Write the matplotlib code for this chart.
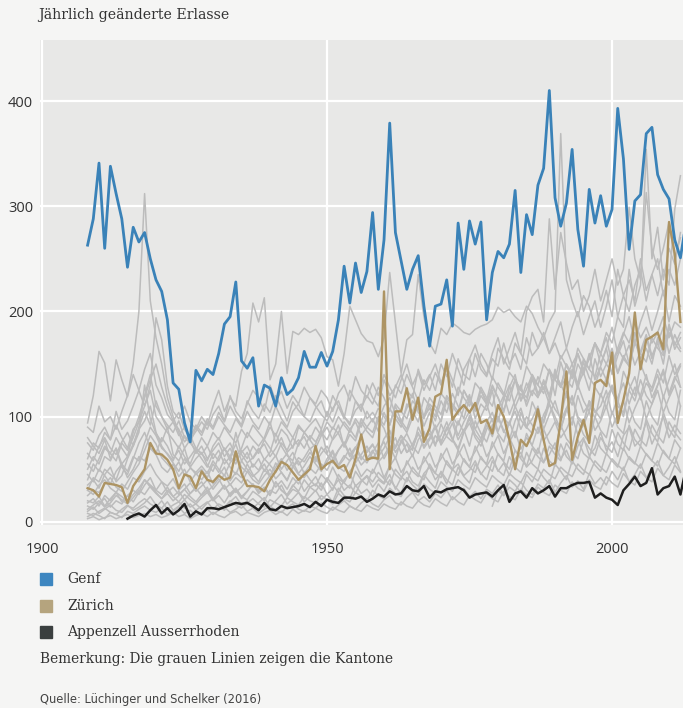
import numpy as np
import matplotlib
matplotlib.use("Agg")
import matplotlib.pyplot as plt
from matplotlib.patches import Rectangle

# jährlich geänderte Erlasse, Genf ab 1908
genf = [263, 288, 341, 260, 338, 312, 288, 242, 280, 266,
        275, 250, 230, 219, 192, 132, 126, 94, 76, 144,
        134, 145, 140, 160, 188, 195, 228, 153, 146, 156,
        110, 130, 127, 110, 137, 121, 126, 137, 162, 147,
        147, 161, 148, 162, 192, 243, 208, 246, 218, 238,
        294, 221, 268, 379, 275, 248, 221, 240, 253, 205,
        167, 205, 207, 230, 186, 284, 240, 286, 264, 285,
        192, 237, 257, 251, 264, 315, 237, 292, 273, 320,
        336, 410, 308, 281, 303, 354, 278, 243, 316, 284,
        310, 281, 297, 393, 345, 259, 305, 311, 369, 375,
        330, 316, 307, 268, 251, 285]

# Zürich ab 1908
zuerich = [32, 30, 24, 37, 36, 35, 33, 18, 34, 42,
           50, 75, 65, 64, 59, 50, 32, 45, 43, 32,
           48, 40, 38, 44, 40, 42, 67, 46, 34, 34,
           33, 29, 40, 48, 57, 54, 47, 40, 45, 50,
           72, 50, 55, 58, 51, 54, 42, 60, 83, 59,
           61, 60, 219, 50, 105, 105, 127, 97, 118, 76,
           89, 119, 122, 154, 97, 105, 111, 104, 113, 94,
           97, 84, 111, 100, 78, 50, 78, 72, 84, 107,
           78, 53, 56, 97, 143, 59, 81, 97, 75, 132,
           135, 129, 161, 94, 116, 141, 199, 145, 173, 176,
           180, 164, 285, 255, 190]

# Appenzell Ausserrhoden ab 1915
appenzell = [3, 6, 8, 5, 11, 16, 8, 13, 7, 11,
             17, 5, 10, 7, 13, 13, 12, 14, 16, 18,
             17, 18, 15, 11, 18, 12, 11, 15, 13, 14,
             15, 17, 14, 19, 15, 21, 19, 18, 23, 23,
             22, 24, 19, 22, 26, 24, 29, 26, 27, 34,
             30, 29, 34, 23, 29, 28, 31, 32, 33, 30,
             23, 26, 27, 28, 24, 30, 35, 19, 27, 29,
             23, 32, 27, 30, 34, 24, 32, 32, 35, 37,
             37, 38, 23, 27, 23, 21, 16, 30, 36, 43,
             34, 37, 51, 26, 32, 34, 43, 26, 51]

# übrige Kantone (graue Linien), ab 1908
kanton_h1 = [90, 85, 110, 95, 100, 88, 105, 120, 150, 200,
             312, 210, 175, 150, 118, 100, 85, 70, 78, 65,
             72, 60, 68, 75, 62, 70, 58, 66, 72, 60,
             68, 74, 62, 70, 80, 66, 72, 78, 70, 82,
             76, 85, 78, 90, 84, 72, 88, 95, 82, 90,
             98, 86, 104, 92, 110, 96, 88, 105, 118, 100,
             108, 96, 115, 104, 122, 110, 98, 118, 106, 125,
             112, 130, 118, 104, 128, 140, 115, 132, 120, 138,
             126, 145, 120, 152, 135, 128, 150, 140, 160, 135,
             148, 165, 140, 158, 172, 150, 180, 160, 175, 155,
             170, 185, 160, 178, 165]
kanton_h2 = [94, 120, 162, 151, 115, 154, 135, 119, 140, 125,
             110, 130, 194, 173, 129, 105, 98, 110, 95, 88,
             100, 92, 110, 125, 105, 118, 110, 143, 160, 208,
             190, 213, 135, 150, 200, 141, 181, 178, 184, 180,
             183, 175, 157, 154, 129, 160, 205, 192, 179, 172,
             170, 157, 175, 237, 189, 141, 173, 178, 235, 195,
             170, 160, 184, 178, 189, 185, 180, 178, 183, 186,
             188, 192, 204, 199, 202, 195, 190, 205, 198, 185,
             175, 160, 170, 155, 165, 150, 160, 145, 155, 170,
             160, 175, 150, 165, 180, 170, 190, 175, 185, 170,
             180, 195, 175, 190, 185]
kanton_h3 = [60, 75, 70, 85, 78, 92, 80, 70, 88, 95,
             120, 140, 110, 100, 92, 85, 96, 80, 75, 90,
             82, 95, 88, 100, 92, 85, 98, 90, 105, 95,
             88, 100, 92, 110, 98, 90, 105, 112, 100, 95,
             108, 115, 100, 120, 110, 98, 125, 115, 105, 130,
             118, 110, 135, 120, 128, 140, 125, 118, 145, 130,
             140, 125, 150, 138, 160, 145, 130, 155, 168, 150,
             140, 160, 175, 150, 165, 180, 160, 200, 214, 221,
             190, 288, 221, 275, 246, 221, 230, 200, 215, 240,
             210, 230, 250, 225, 240, 299, 250, 230, 313, 260,
             240, 260, 285, 250, 270]
kanton_h4 = [40, 55, 48, 62, 58, 70, 52, 45, 60, 75,
             85, 70, 65, 80, 72, 60, 68, 55, 62, 70,
             65, 58, 72, 80, 68, 75, 62, 70, 85, 78,
             72, 80, 95, 75, 88, 82, 70, 90, 85, 92,
             98, 88, 105, 95, 110, 100, 92, 115, 108, 120,
             112, 128, 118, 105, 130, 122, 140, 128, 115, 135,
             125, 142, 130, 148, 135, 120, 145, 155, 138, 160,
             150, 135, 165, 155, 145, 170, 160, 150, 180, 165,
             175, 190, 200, 369, 230, 210, 195, 215, 205, 185,
             200, 220, 195, 240, 215, 230, 210, 250, 220, 235,
             215, 240, 225, 297, 329]
kanton_h5 = [30, 42, 38, 50, 45, 40, 55, 48, 62, 58,
             75, 90, 82, 70, 65, 58, 72, 62, 55, 68,
             60, 52, 65, 58, 70, 62, 55, 68, 60, 72,
             65, 78, 70, 62, 75, 68, 80, 72, 85, 78,
             70, 82, 90, 78, 85, 95, 88, 80, 98, 90,
             85, 100, 92, 108, 98, 90, 112, 105, 95, 118,
             110, 100, 122, 115, 105, 128, 118, 110, 132, 125,
             115, 138, 128, 120, 142, 135, 125, 148, 138, 130,
             150, 142, 135, 158, 148, 140, 165, 155, 145, 170,
             160, 180, 170, 195, 185, 240, 205, 225, 354, 250,
             280, 230, 260, 245, 275]
kanton_h6 = [65, 58, 72, 80, 70, 64, 76, 85, 72, 90,
             105, 92, 115, 100, 88, 95, 82, 90, 78, 86,
             95, 88, 102, 110, 96, 120, 105, 98, 112, 125,
             118, 105, 130, 115, 124, 108, 120, 112, 128, 118,
             112, 125, 118, 105, 122, 130, 115, 138, 125, 118,
             132, 120, 140, 128, 118, 135, 150, 130, 142, 125,
             138, 150, 132, 145, 128, 155, 140, 135, 160, 145,
             138, 155, 148, 170, 150, 160, 145, 175, 158, 165,
             180, 160, 175, 190, 165, 185, 200, 178, 195, 210,
             185, 205, 230, 195, 215, 200, 225, 240, 210, 235,
             250, 215, 240, 225, 250]
kanton_h7 = [18, 22, 15, 25, 20, 28, 24, 19, 26, 32,
             40, 35, 30, 38, 28, 33, 26, 31, 37, 29,
             34, 40, 31, 38, 45, 35, 42, 37, 48, 40,
             36, 44, 50, 41, 47, 39, 53, 45, 42, 51,
             46, 55, 49, 60, 52, 48, 58, 64, 54, 60,
             68, 57, 63, 72, 60, 78, 66, 70, 84, 72,
             80, 92, 76, 88, 98, 82, 95, 105, 88, 100,
             112, 95, 108, 120, 102, 116, 130, 110, 125, 118,
             135, 120, 142, 128, 150, 136, 160, 142, 155, 170,
             150, 165, 185, 160, 178, 195, 170, 190, 205, 182,
             200, 220, 190, 215, 205]
kanton_m1 = [50, 62, 55, 70, 65, 58, 75, 68, 80, 95,
             110, 125, 100, 92, 85, 78, 70, 82, 75, 68,
             80, 72, 85, 78, 90, 82, 75, 88, 80, 92,
             85, 78, 90, 82, 95, 88, 80, 92, 85, 78,
             90, 82, 95, 88, 100, 92, 85, 98, 90, 105,
             95, 108, 100, 92, 112, 105, 98, 115, 108, 100,
             118, 110, 102, 120, 112, 105, 125, 115, 108, 128,
             118, 110, 132, 122, 115, 135, 125, 118, 140, 130,
             122, 145, 135, 128, 150, 140, 132, 155, 145, 138,
             160, 150, 142, 165, 155, 148, 170, 160, 152, 175,
             165, 158, 180, 170, 162]
kanton_m2 = [35, 40, 32, 45, 52, 38, 44, 60, 72, 85,
             130, 98, 84, 76, 90, 64, 58, 70, 52, 60,
             66, 54, 48, 62, 70, 58, 85, 64, 56, 61,
             70, 59, 66, 84, 72, 63, 58, 75, 81, 69,
             74, 88, 65, 79, 92, 71, 83, 77, 95, 86,
             80, 97, 89, 74, 102, 93, 85, 99, 110, 91,
             104, 88, 97, 115, 100, 92, 108, 121, 98, 112,
             106, 125, 95, 117, 130, 109, 122, 114, 136, 119,
             128, 112, 140, 131, 118, 145, 126, 152, 137, 129,
             147, 135, 160, 141, 155, 168, 149, 162, 178, 158,
             171, 150, 186, 164, 175]
kanton_m3 = [25, 30, 28, 36, 42, 33, 29, 38, 47, 55,
             68, 82, 74, 61, 55, 49, 57, 44, 51, 47,
             53, 46, 58, 50, 44, 56, 63, 52, 47, 55,
             49, 60, 54, 47, 58, 65, 52, 61, 57, 66,
             59, 71, 64, 56, 68, 75, 62, 70, 81, 66,
             73, 64, 79, 87, 70, 82, 76, 68, 90, 78,
             84, 72, 93, 81, 76, 96, 85, 101, 88, 79,
             95, 104, 86, 99, 92, 110, 97, 89, 114, 102,
             96, 118, 107, 99, 124, 111, 130, 115, 105, 128,
             119, 137, 124, 112, 143, 131, 120, 150, 136, 127,
             145, 132, 158, 140, 150]
kanton_m4 = [75, 68, 82, 90, 78, 105, 88, 96, 110, 125,
             145, 160, 130, 118, 102, 95, 88, 76, 82, 70,
             64, 72, 60, 68, 55, 62, 74, 58, 66, 52,
             60, 48, 56, 63, 50, 58, 66, 54, 61, 70,
             57, 65, 72, 60, 68, 76, 64, 71, 59, 67,
             74, 62, 70, 81, 66, 75, 84, 72, 65, 79,
             88, 74, 82, 95, 79, 70, 86, 98, 83, 76,
             92, 81, 100, 87, 78, 96, 108, 90, 84, 102,
             94, 112, 100, 88, 106, 118, 98, 92, 115, 104,
             110, 125, 102, 118, 132, 112, 128, 120, 140, 118,
             130, 145, 122, 138, 128]
kanton_m5 = [45, 38, 50, 44, 36, 48, 55, 42, 50, 62,
             58, 70, 64, 52, 47, 55, 43, 50, 38, 46,
             40, 48, 36, 44, 52, 39, 47, 42, 55, 45,
             38, 50, 43, 56, 47, 40, 52, 58, 46, 54,
             62, 50, 57, 66, 53, 60, 70, 56, 64, 72,
             60, 68, 76, 63, 72, 82, 66, 74, 85, 70,
             78, 90, 73, 82, 94, 78, 88, 72, 96, 84,
             76, 92, 100, 85, 95, 80, 104, 90, 98, 110,
             88, 102, 115, 96, 108, 92, 120, 104, 112, 98,
             122, 108, 130, 115, 100, 126, 138, 116, 132, 124,
             140, 118, 135, 150, 128]
kanton_m6 = [55, 48, 60, 72, 65, 80, 70, 62, 85, 100,
             118, 135, 150, 128, 110, 96, 104, 88, 80, 92,
             85, 98, 90, 104, 95, 110, 100, 92, 115, 105,
             98, 112, 104, 120, 108, 96, 114, 106, 100, 118,
             110, 102, 96, 108, 115, 100, 94, 106, 112, 98,
             104, 96, 110, 118, 102, 95, 108, 122, 104, 98,
             112, 106, 95, 118, 110, 102, 125, 114, 105, 120,
             112, 128, 118, 106, 122, 135, 115, 126, 140, 122,
             132, 118, 145, 128, 138, 150, 130, 142, 125, 155,
             138, 150, 165, 142, 158, 148, 172, 155, 165, 150,
             175, 160, 188, 168, 180]
kanton_m7 = [80, 72, 65, 78, 60, 70, 55, 62, 74, 88,
             96, 110, 85, 72, 64, 56, 48, 60, 52, 45,
             50, 42, 55, 47, 60, 52, 45, 58, 50, 43,
             48, 55, 44, 52, 60, 49, 57, 46, 53, 62,
             55, 48, 60, 68, 54, 63, 58, 71, 62, 56,
             66, 75, 60, 70, 80, 65, 74, 62, 78, 86,
             70, 82, 75, 90, 78, 68, 85, 94, 80, 72,
             88, 98, 84, 76, 95, 105, 88, 100, 92, 84,
             102, 112, 96, 88, 108, 120, 100, 94, 115, 106,
             98, 118, 128, 110, 104, 125, 115, 135, 120, 112,
             130, 142, 120, 135, 148]
kanton_l1 = [20, 18, 24, 15, 22, 28, 19, 25, 30, 26,
             35, 42, 30, 26, 33, 24, 29, 21, 27, 32,
             25, 30, 22, 28, 34, 26, 31, 24, 29, 36,
             28, 33, 26, 38, 30, 25, 35, 29, 40, 33,
             36, 30, 42, 35, 28, 40, 46, 34, 39, 44,
             38, 47, 41, 35, 50, 43, 38, 52, 45, 40,
             55, 46, 42, 58, 50, 44, 60, 52, 47, 62,
             54, 48, 65, 57, 50, 68, 60, 53, 70, 62,
             56, 72, 64, 58, 75, 66, 60, 78, 70, 63,
             80, 72, 66, 85, 75, 68, 88, 78, 72, 92,
             82, 75, 95, 85, 78]
kanton_l2 = [10, 14, 8, 12, 16, 11, 9, 15, 13, 18,
             22, 17, 14, 20, 12, 16, 19, 13, 17, 11,
             15, 19, 12, 17, 14, 20, 16, 13, 18, 22,
             17, 14, 21, 18, 15, 23, 19, 16, 24, 20,
             18, 25, 21, 17, 27, 22, 19, 28, 24, 20,
             30, 25, 22, 32, 27, 24, 34, 29, 25, 36,
             31, 27, 38, 33, 29, 40, 35, 31, 42, 37,
             33, 44, 39, 35, 46, 41, 37, 48, 43, 39,
             50, 45, 41, 52, 47, 43, 55, 49, 45, 58,
             52, 47, 60, 54, 49, 62, 56, 51, 65, 58,
             53, 68, 60, 55, 70]
kanton_l3 = [5, 8, 6, 3, 9, 7, 4, 10, 8, 12,
             15, 11, 9, 13, 7, 10, 14, 8, 11, 6,
             9, 12, 7, 11, 14, 9, 12, 16, 10, 13,
             8, 12, 15, 11, 9, 14, 17, 12, 10, 15,
             13, 18, 14, 11, 16, 20, 15, 12, 18, 22,
             17, 14, 21, 25, 18, 16, 23, 28, 20, 24,
             19, 27, 23, 30, 21, 26, 32, 24, 29, 22,
             31, 27, 35, 25, 33, 29, 38, 30, 26, 36,
             32, 40, 28, 37, 44, 33, 39, 31, 46, 36,
             42, 35, 48, 40, 52, 38, 45, 55, 42, 50,
             58, 44, 52, 62, 48]
kanton_l4 = [15, 12, 18, 22, 14, 20, 17, 25, 19, 28,
             40, 33, 27, 22, 30, 24, 19, 26, 21, 17,
             23, 28, 20, 25, 18, 27, 32, 24, 21, 29,
             25, 20, 30, 27, 35, 24, 31, 28, 22, 33,
             29, 37, 26, 32, 40, 30, 35, 27, 38, 43,
             33, 40, 36, 45, 31, 42, 48, 38, 34, 46,
             52, 40, 47, 36, 50, 55, 44, 49, 58, 45,
             53, 62, 48, 56, 44, 60, 66, 52, 58, 70,
             57, 64, 75, 60, 68, 55, 72, 80, 63, 70,
             85, 68, 76, 62, 82, 90, 72, 78, 95, 74,
             86, 100, 80, 92, 84]
kanton_l5 = [30, 26, 35, 40, 32, 28, 36, 31, 42, 38,
             48, 55, 45, 38, 34, 41, 30, 36, 27, 33,
             38, 29, 34, 41, 31, 36, 28, 33, 40, 35,
             30, 37, 44, 33, 39, 31, 42, 36, 48, 40,
             34, 45, 39, 52, 41, 37, 48, 55, 43, 50,
             46, 58, 42, 53, 61, 47, 55, 64, 50, 57,
             66, 52, 60, 70, 55, 63, 74, 58, 67, 78,
             62, 71, 82, 65, 76, 86, 69, 80, 73, 90,
             77, 85, 95, 80, 88, 100, 83, 92, 105, 87,
             96, 110, 90, 102, 115, 94, 108, 120, 98, 112,
             125, 104, 118, 130, 110]
kanton_l6 = [8, 6, 10, 13, 9, 7, 12, 16, 11, 14,
             18, 24, 16, 13, 19, 11, 15, 21, 14, 17,
             12, 18, 22, 15, 11, 19, 24, 16, 20, 13,
             18, 23, 14, 20, 26, 17, 22, 28, 19, 24,
             30, 21, 26, 19, 32, 25, 22, 35, 27, 31,
             24, 36, 29, 40, 33, 27, 42, 35, 30, 45,
             38, 32, 48, 40, 35, 52, 43, 37, 55, 46,
             40, 58, 49, 44, 62, 52, 47, 66, 55, 50,
             70, 58, 53, 74, 62, 56, 78, 65, 60, 82,
             70, 64, 88, 74, 68, 92, 78, 72, 98, 84,
             76, 104, 88, 80, 110]
kanton_l7 = [12, 16, 20, 14, 18, 25, 21, 17, 23, 30,
             26, 34, 28, 22, 27, 20, 25, 31, 24, 19,
             26, 33, 21, 28, 35, 24, 30, 22, 29, 36,
             27, 32, 25, 38, 30, 26, 34, 41, 29, 36,
             43, 33, 39, 30, 45, 37, 32, 48, 40, 35,
             50, 42, 37, 54, 45, 40, 58, 48, 43, 62,
             52, 46, 65, 55, 49, 68, 58, 52, 72, 60,
             55, 76, 64, 58, 80, 68, 61, 84, 72, 65,
             88, 75, 69, 92, 79, 72, 96, 83, 76, 100,
             87, 80, 105, 90, 84, 110, 95, 88, 115, 100,
             92, 120, 104, 97, 125]
kanton_l8 = [3, 5, 2, 4, 6, 3, 5, 7, 4, 6,
             8, 5, 7, 4, 6, 9, 5, 7, 3, 6,
             8, 5, 9, 6, 4, 8, 10, 6, 9, 7,
             5, 9, 11, 7, 10, 6, 12, 8, 11, 9,
             13, 10, 8, 14, 11, 9, 15, 12, 10, 16,
             13, 11, 17, 14, 12, 19, 15, 13, 20, 16,
             14, 22, 18, 15, 24, 19, 16, 25, 21, 18,
             27, 22, 19, 29, 24, 21, 31, 26, 23, 33,
             28, 25, 35, 30, 27, 38, 32, 29, 40, 34,
             31, 43, 37, 33, 46, 39, 35, 48, 42, 38,
             51, 44, 40, 54, 47]
# Jura erst ab 1979
kanton_jura = [15, 30, 25, 40, 35, 28, 45, 38, 50, 42,
               36, 55, 48, 40, 58, 50, 45, 62, 54, 48,
               65, 58, 52, 70, 60, 55, 72, 64, 58, 75,
               66, 60, 78, 70]

graue = [kanton_h1, kanton_h2, kanton_h3, kanton_h4, kanton_h5, kanton_h6,
         kanton_h7, kanton_m1, kanton_m2, kanton_m3, kanton_m4, kanton_m5,
         kanton_m6, kanton_m7, kanton_l1, kanton_l2, kanton_l3, kanton_l4,
         kanton_l5, kanton_l6, kanton_l7, kanton_l8]

W, H = 683, 708
fig = plt.figure(figsize=(W / 100, H / 100), dpi=100, facecolor="#f5f5f4")

def fx(px):
    return px / W

def fy(py):
    return 1 - py / H

ax = fig.add_axes([fx(40), fy(525), fx(683) - fx(40), fy(40) - fy(525)])
ax.set_facecolor("#e8e8e7")

for werte in graue:
    jahre = np.arange(1908, 1908 + len(werte))
    ax.plot(jahre, werte, color="#bcbcbc", lw=1.1, zorder=2)
ax.plot(np.arange(1979, 1979 + len(kanton_jura)), kanton_jura, color="#bcbcbc", lw=1.1, zorder=2)

ax.plot(np.arange(1915, 1915 + len(appenzell)), appenzell, color="#1e1e1e", lw=1.8, zorder=4)
ax.plot(np.arange(1908, 1908 + len(zuerich)), zuerich, color="#ad9463", lw=1.7, zorder=5)
ax.plot(np.arange(1908, 1908 + len(genf)), genf, color="#3a82b8", lw=2.0, zorder=6)

ax.set_xlim(1899.65, 2012.45)
ax.set_ylim(-3, 458)
ax.set_xticks([1900, 1950, 2000])
ax.set_yticks([0, 100, 200, 300, 400])
ax.grid(True, color="white", lw=1.6, zorder=1)
ax.set_axisbelow(True)
for s in ax.spines.values():
    s.set_visible(False)
ax.tick_params(length=0, labelsize=10.5, colors="#333333")
ax.tick_params(axis="y", pad=5)
ax.tick_params(axis="x", pad=12)
for lab in ax.get_xticklabels() + ax.get_yticklabels():
    lab.set_family("Open Sans")

serif = "DejaVu Serif"
fig.text(fx(38), fy(15), "Jährlich geänderte Erlasse", family=serif, fontsize=10.2,
         color="#333333", va="center", ha="left")

legende = [("Genf", "#3d86c0", 579), ("Zürich", "#b5a47e", 606),
           ("Appenzell Ausserrhoden", "#3a3f3f", 632)]
for name, farbe, ypx in legende:
    fig.add_artist(Rectangle((fx(40), fy(ypx + 6)), fx(12), 12 / H,
                             transform=fig.transFigure, color=farbe))
    fig.text(fx(67), fy(ypx), name, family=serif, fontsize=10, color="#333333",
             va="center", ha="left")

fig.text(fx(40), fy(659), "Bemerkung: Die grauen Linien zeigen die Kantone",
         family=serif, fontsize=9.9, color="#333333", va="center", ha="left")
fig.text(fx(40), fy(700), "Quelle: Lüchinger und Schelker (2016)",
         family=["Liberation Sans Narrow", "DejaVu Sans"], fontsize=8.3,
         color="#444444", va="center", ha="left")

fig.savefig("out.png", dpi=100, facecolor=fig.get_facecolor())
